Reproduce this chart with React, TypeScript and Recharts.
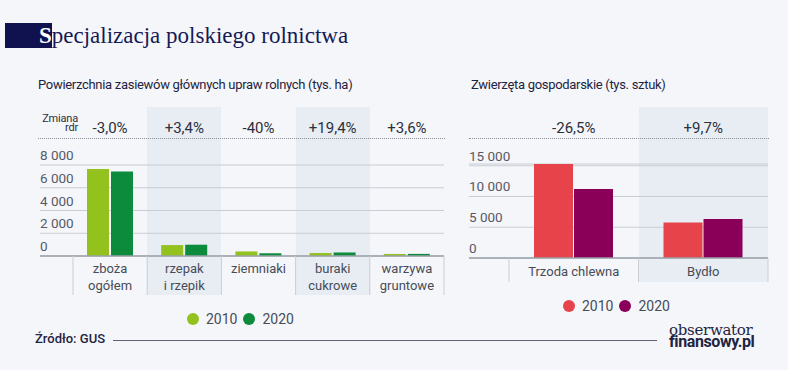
import React from 'react';
import { BarChart, Bar, XAxis, YAxis, CartesianGrid } from 'recharts';

// ---------- data ----------
const cropCategories = ['zboża\nogółem', 'rzepak\ni rzepik', 'ziemniaki', 'buraki\ncukrowe', 'warzywa\ngruntowe'];
const crop2010 = [7650, 960, 400, 260, 180];
const crop2020 = [7420, 993, 240, 310, 186];
const cropChange = ['-3,0%', '+3,4%', '-40%', '+19,4%', '+3,6%'];
const cropTicks = [0, 2000, 4000, 6000, 8000];

const animalCategories = ['Trzoda chlewna', 'Bydło'];
const animal2010 = [15280, 5760];
const animal2020 = [11230, 6320];
const animalChange = ['-26,5%', '+9,7%'];
const animalTicks = [0, 5000, 10000, 15000];

const seriesYears = ['2010', '2020'];
const cropColors = ['#93c11e', '#0b8b3b'];
const animalColors = ['#e6444a', '#8a0058'];

const cropData = cropCategories.map((name, i) => ({ name, y2010: crop2010[i], y2020: crop2020[i] }));
const animalData = animalCategories.map((name, i) => ({ name, y2010: animal2010[i], y2020: animal2020[i] }));

// ---------- layout ----------
const W = 788;
const H = 370;
const FONT = 'Roboto, "Noto Sans", sans-serif';
const XH = 40;

const L = { plotLeft: 40, plotRight: 444, plotTop: 165, axisY: 256, padLeft: 33, tickDown: 39, n: cropCategories.length };
const R = { plotLeft: 469, plotRight: 768, plotTop: 164, axisY: 258, padLeft: 40, tickDown: 24, n: animalCategories.length };
const bandW = (c: typeof L) => (c.plotRight - c.plotLeft - c.padLeft) / c.n;

const fmt = (v: number) => String(v).replace(/\B(?=(\d{3})+(?!\d))/g, ' ');

const makeYTick = (c: typeof L) => (props: any) => {
  const { y, payload } = props;
  return (
    <text x={c.plotLeft} y={y - 5} textAnchor="start" fill="#555a66" fontSize={13.5} fontFamily={FONT}>
      {fmt(payload.value)}
    </text>
  );
};

const makeXTick = (c: typeof L, changes: string[], labelOffsets: number[]) => (props: any) => {
  const { x, payload, index } = props;
  const bw = bandW(c);
  const lines = String(payload.value).split('\n');
  const last = index === c.n - 1;
  return (
    <g>
      <line x1={x - bw / 2} x2={x - bw / 2} y1={c.axisY} y2={c.axisY + c.tickDown} stroke="#c9cdd4" strokeWidth={1} />
      {last && (
        <line x1={x + bw / 2} x2={x + bw / 2} y1={c.axisY} y2={c.axisY + c.tickDown} stroke="#c9cdd4" strokeWidth={1} />
      )}
      {lines.map((ln, k) => (
        <text key={k} x={x} y={c.axisY + labelOffsets[k]} textAnchor="middle" fill="#474c58" fontSize={13} fontFamily={FONT}>
          {ln}
        </text>
      ))}
      <text x={x} y={133} textAnchor="middle" fill="#2b303c" fontSize={15} fontFamily={FONT}>
        {changes[index]}
      </text>
    </g>
  );
};

const Shading = ({ c, top }: { c: typeof L; top: number }) => {
  const bw = bandW(c);
  const out = [];
  for (let i = 1; i < c.n; i += 2) {
    out.push(
      <div
        key={i}
        style={{
          position: 'absolute',
          left: c.plotLeft + c.padLeft + i * bw,
          top,
          width: bw,
          height: c.axisY + c.tickDown - top,
          background: '#e8edf4',
        }}
      />
    );
  }
  return <>{out}</>;
};

const Legend = ({ left, top, colors }: { left: number; top: number; colors: string[] }) => (
  <div style={{ position: 'absolute', left, top, display: 'flex', alignItems: 'center', fontFamily: FONT, fontSize: 14, color: '#474c58' }}>
    {seriesYears.map((yr, i) => (
      <div key={yr} style={{ display: 'flex', alignItems: 'center', marginRight: 6 }}>
        <div style={{ width: 12, height: 12, borderRadius: 6, background: colors[i], marginRight: 7 }} />
        <span>{yr}</span>
      </div>
    ))}
  </div>
);

export default function App() {
  return (
    <div style={{ position: 'fixed', left: 0, top: 0, width: W, height: H, background: '#f5f6f9', overflow: 'hidden', fontFamily: FONT }}>
      {/* title */}
      <div style={{ position: 'absolute', left: 5, top: 23, width: 47, height: 25, background: '#10124f' }} />
      <div style={{ position: 'absolute', left: 39, top: 22, fontFamily: '"Liberation Serif", "DejaVu Serif", serif', fontSize: 23, lineHeight: '27px', color: '#151a55', whiteSpace: 'nowrap' }}>
        <span style={{ color: '#ffffff', fontWeight: 700 }}>S</span>pecjalizacja polskiego rolnictwa
      </div>

      {/* subtitles */}
      <div style={{ position: 'absolute', left: 38, top: 77, fontSize: 13, letterSpacing: -0.3, color: '#1e2442', whiteSpace: 'nowrap' }}>
        Powierzchnia zasiewów głównych upraw rolnych (tys. ha)
      </div>
      <div style={{ position: 'absolute', left: 471, top: 77, fontSize: 13, letterSpacing: -0.3, color: '#1e2442', whiteSpace: 'nowrap' }}>
        Zwierzęta gospodarskie (tys. sztuk)
      </div>

      {/* shading */}
      <Shading c={L} top={107} />
      <Shading c={R} top={107} />

      {/* Zmiana rdr */}
      <div style={{ position: 'absolute', left: 30, width: 48, top: 114, fontSize: 11, lineHeight: '9px', letterSpacing: -0.2, color: '#2b303c', textAlign: 'right' }}>
        Zmiana<br />rdr
      </div>

      {/* dotted lines */}
      <div style={{ position: 'absolute', left: 38, top: 138, width: 407, borderTop: '1px dotted #8a8f99' }} />
      <div style={{ position: 'absolute', left: 469, top: 138, width: 300, borderTop: '1px dotted #8a8f99' }} />

      {/* left chart */}
      <div style={{ position: 'absolute', left: 0, top: 0 }}>
        <BarChart
          width={W}
          height={H}
          data={cropData}
          margin={{ top: L.plotTop, left: L.plotLeft, right: W - L.plotRight, bottom: H - L.axisY - XH }}
          barCategoryGap={14}
          barGap={2}
        >
          <CartesianGrid horizontal vertical={false} stroke="#c8cdd5" />
          <XAxis
            dataKey="name"
            height={XH}
            interval={0}
            padding={{ left: L.padLeft, right: 0 }}
            tickLine={false}
            axisLine={{ stroke: '#9aa0a8', strokeWidth: 1.5 }}
            tick={makeXTick(L, cropChange, [16.5, 33.5])}
          />
          <YAxis
            width={30}
            mirror
            interval={0}
            domain={[0, 8000]}
            ticks={cropTicks}
            axisLine={false}
            tickLine={false}
            tick={makeYTick(L)}
          />
          <Bar dataKey="y2010" name={seriesYears[0]} fill={cropColors[0]} isAnimationActive={false} />
          <Bar dataKey="y2020" name={seriesYears[1]} fill={cropColors[1]} isAnimationActive={false} />
        </BarChart>
      </div>

      {/* right chart */}
      <div style={{ position: 'absolute', left: 0, top: 0 }}>
        <BarChart
          width={W}
          height={H}
          data={animalData}
          margin={{ top: R.plotTop, left: R.plotLeft, right: W - R.plotRight, bottom: H - R.axisY - XH }}
          barCategoryGap={25}
          barGap={1}
        >
          <CartesianGrid horizontal vertical={false} stroke="#c8cdd5" />
          <XAxis
            dataKey="name"
            height={XH}
            interval={0}
            padding={{ left: R.padLeft, right: 0 }}
            tickLine={false}
            axisLine={{ stroke: '#9aa0a8', strokeWidth: 1.5 }}
            tick={makeXTick(R, animalChange, [17.5])}
          />
          <YAxis
            width={30}
            mirror
            interval={0}
            domain={[0, 15000]}
            ticks={animalTicks}
            axisLine={false}
            tickLine={false}
            tick={makeYTick(R)}
          />
          <Bar dataKey="y2010" name={seriesYears[0]} fill={animalColors[0]} isAnimationActive={false} />
          <Bar dataKey="y2020" name={seriesYears[1]} fill={animalColors[1]} isAnimationActive={false} />
        </BarChart>
      </div>

      {/* legends */}
      <Legend left={187} top={311} colors={cropColors} />
      <Legend left={563} top={298} colors={animalColors} />

      {/* source */}
      <div style={{ position: 'absolute', left: 35, top: 331, fontSize: 13, fontWeight: 500, color: '#1e2442', whiteSpace: 'nowrap' }}>Źródło: GUS</div>
      <div style={{ position: 'absolute', left: 113, top: 340, width: 544, borderTop: '1px solid #5d6372' }} />

      {/* logo */}
      <div style={{ position: 'absolute', left: 669, top: 325, color: '#1e2442', lineHeight: '11px', whiteSpace: 'nowrap' }}>
        <div style={{ fontFamily: '"DejaVu Serif", serif', fontSize: 15, letterSpacing: -0.3 }}>obserwator</div>
        <div style={{ fontFamily: FONT, fontWeight: 700, fontSize: 16, letterSpacing: -0.4 }}>finansowy.pl</div>
      </div>
    </div>
  );
}
